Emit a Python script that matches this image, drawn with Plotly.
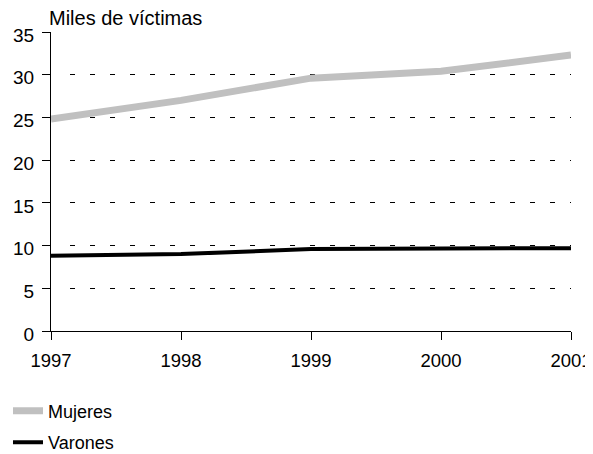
import plotly.graph_objects as go

years = [1997, 1998, 1999, 2000, 2001]
mujeres = [24.8, 27.0, 29.6, 30.4, 32.3]
varones = [8.8, 9.0, 9.6, 9.6, 9.7]
y_ticks = [0, 5, 10, 15, 20, 25, 30, 35]

FONT = "Arial, Liberation Sans, sans-serif"

grid_dash = "0px,19px" + ",5px,15px" * 30

fig = go.Figure()
fig.add_trace(go.Scatter(x=years, y=mujeres, mode="lines", name="Mujeres",
                         legendgroup="m",
                         line=dict(color="#c0c0c0", width=7)))
fig.add_trace(go.Scatter(x=years, y=varones, mode="lines", name="Varones",
                         legendgroup="v",
                         line=dict(color="#000000", width=4)))

fig.update_layout(
    width=600, height=446,
    margin=dict(l=43, r=37, t=24, b=123, autoexpand=False),
    plot_bgcolor="white", paper_bgcolor="white",
    font=dict(family=FONT, size=19, color="black"),
    showlegend=True,
    legend=dict(x=-0.0827, xanchor="left", y=-0.206, yanchor="top",
                font=dict(size=18), bgcolor="rgba(0,0,0,0)",
                itemwidth=30, traceorder="grouped", tracegroupgap=5),
    xaxis=dict(range=[1997, 2001], tickvals=years, ticktext=[str(y) for y in years],
               showline=True, linecolor="black", linewidth=1,
               ticks="outside", ticklen=8, tickcolor="black",
               showgrid=False, zeroline=False, tickfont=dict(size=18.5),
               ticklabelstandoff=5, automargin=False),
    yaxis=dict(range=[0, 35], tickvals=y_ticks,
               showline=True, linecolor="black", linewidth=1,
               ticks="outside", ticklen=8, tickcolor="black",
               showgrid=True, gridcolor="black", gridwidth=1, griddash=grid_dash,
               zeroline=False, tickfont=dict(size=19), ticklabelstandoff=4,
               ticklabelshift=3, automargin=False),
    annotations=[dict(text="Miles de víctimas", xref="paper", yref="paper",
                      x=-0.008, y=1.005, xanchor="left", yanchor="bottom",
                      showarrow=False, font=dict(size=20))],
)

fig.write_html("out.html")
